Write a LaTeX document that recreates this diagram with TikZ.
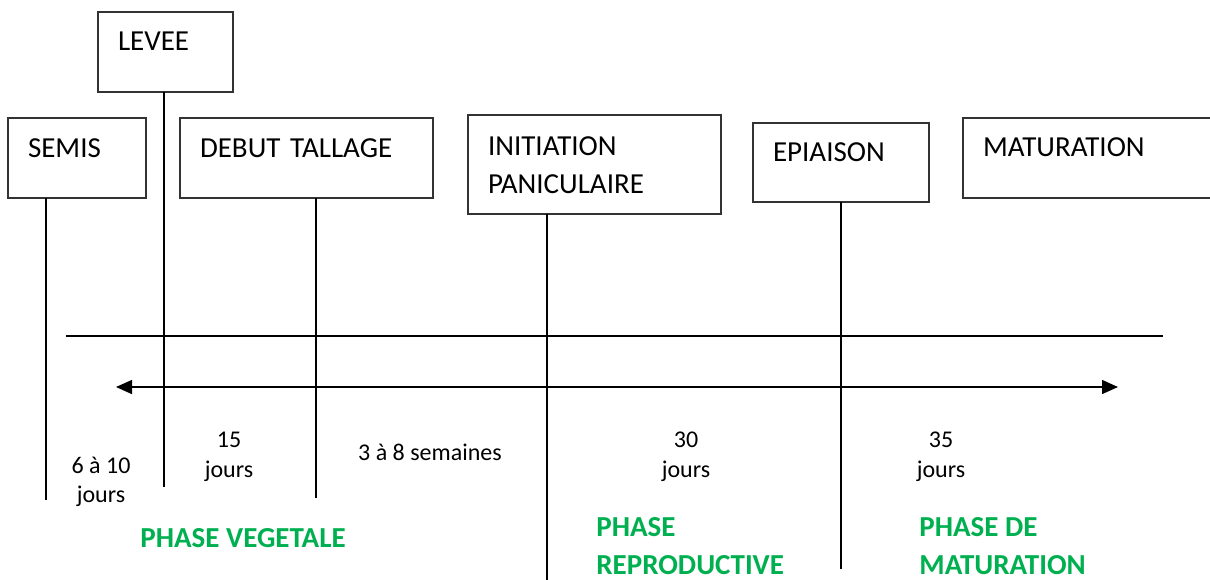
\documentclass[tikz,border=0pt]{standalone}
\usepackage{fontspec}
\setmainfont{Carlito}
\usetikzlibrary{arrows.meta}
\definecolor{phasegreen}{RGB}{0,176,80}
\newcommand{\boxfont}{\fontsize{14.5}{19}\selectfont}
\newcommand{\dayfont}{\fontsize{12}{15}\selectfont}
\tikzset{
  stage/.style={draw=black!80, line width=0.6pt, anchor=north west, align=left,
    inner xsep=10pt, inner ysep=0pt, outer sep=0pt, font=\boxfont},
  days/.style={anchor=base, align=center, font=\dayfont},
  phase/.style={anchor=base west, align=left, inner xsep=0pt, text=phasegreen,
    font=\fontsize{14.5}{19}\selectfont\bfseries},
  tick/.style={line width=0.75pt}
}
\begin{document}
\begin{tikzpicture}[x=0.5pt, y=-0.5pt]
      \useasboundingbox (0,0) rectangle (1210,579);
      \node[stage, text width=47.5pt, text height=19pt, text depth=21pt] (levee) at (98,12) {LEVEE};
      \node[stage, text width=49pt, text height=19.5pt, text depth=20.5pt] (semis) at (8,118) {SEMIS};
      \node[stage, text width=106.5pt, text height=19.5pt, text depth=20.5pt] (tallage) at (180,118) {DEBUT TALLAGE};
      \node[stage, text width=106.5pt, text height=20pt, text depth=29.5pt] (initiation) at (468,115) {INITIATION\\PANICULAIRE};
      \node[stage, text width=68pt, text height=19pt, text depth=20.5pt] (epiaison) at (753,123) {EPIAISON};
      \node[stage, text width=118.5pt, text height=19pt, text depth=21pt] (maturation) at (963,118) {MATURATION};
      \coordinate (semisend) at (46,500);
      \coordinate (leveeend) at (164,487);
      \coordinate (tallageend) at (316,498);
      \coordinate (initiationend) at (547,585);
      \coordinate (epiaisonend) at (841,569);
      \coordinate (axisleft) at (66,336);
      \coordinate (axisright) at (1163,336);
      \coordinate (arrowleft) at (116,387);
      \coordinate (arrowright) at (1118,387);
      \begin{scope}[tick]
        \draw (semis.south -| semisend) -- (semisend);
        \draw (levee.south -| leveeend) -- (leveeend);
        \draw (tallage.south -| tallageend) -- (tallageend);
        \draw (initiation.south -| initiationend) -- (initiationend);
        \draw (epiaison.south -| epiaisonend) -- (epiaisonend);
        \draw (axisleft) -- (axisright);
        \draw[{Triangle[length=8pt,width=7pt]}-{Triangle[length=8pt,width=7pt]}] (arrowleft) -- (arrowright);
      \end{scope}
      \node[days] (d1) at (101,502) {6 à 10\\[-0.5pt]jours};
      \node[days] (d2) at (229,477) {15\\jours};
      \node[days] (d3) at (430,460) {3 à 8 semaines};
      \node[days] (d4) at (686,477) {30\\jours};
      \node[days] (d5) at (941,477) {35\\jours};
      \node[phase] (vegetale) at (140,547) {PHASE VEGETALE};
      \node[phase] (reproductive) at (596,574) {PHASE\\REPRODUCTIVE};
      \node[phase] (maturite) at (919,574) {PHASE DE\\MATURATION};
    \end{tikzpicture}
\end{document}
